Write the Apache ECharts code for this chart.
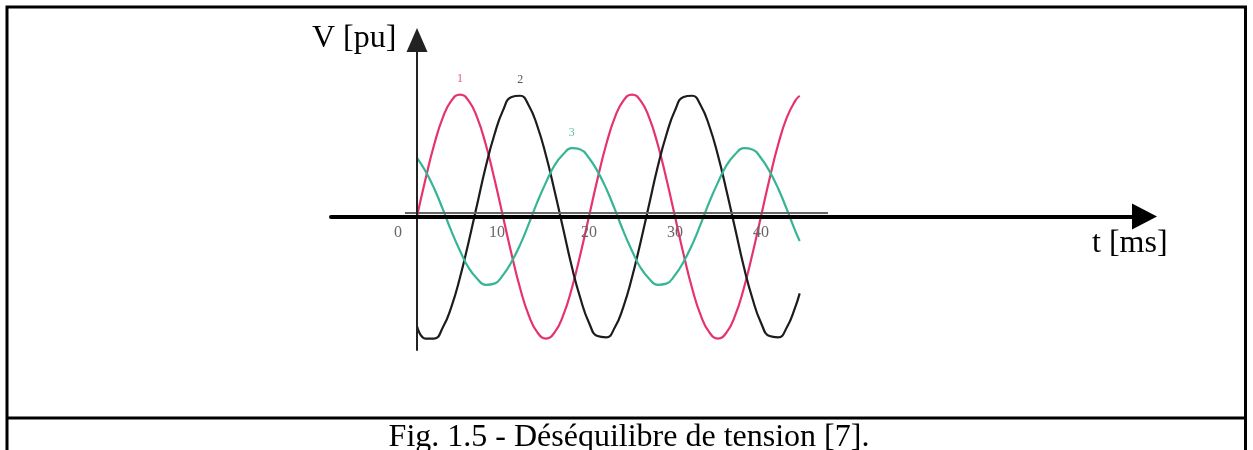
<!DOCTYPE html>
<html>
<head>
<meta charset="utf-8">
<title>Déséquilibre de tension</title>
<script src="https://cdn.jsdelivr.net/npm/echarts@6/dist/echarts.min.js"></script>
<style>
    html, body {
        margin: 0;
        padding: 0;
        background: #fff;
    }

    #chart {
        width: 1253px;
        height: 450px;
    }
</style>
</head>
<body>
<div id="chart"></div>
<script>
const timeMs = [0, 1, 2, 3, 4, 5, 6, 7, 8, 9,
    10, 11, 12, 13, 14, 15, 16, 17, 18, 19,
    20, 21, 22, 23, 24, 25, 26, 27, 28, 29,
    30, 31, 32, 33, 34, 35, 36, 37, 38, 39,
    40, 41, 42, 43, 44, 44.5]
// phase 1 (rouge)
const phase1 = [0, 0.31, 0.59, 0.81, 0.95, 1, 0.95, 0.81, 0.59, 0.31,
    0, -0.31, -0.59, -0.81, -0.95, -1, -0.95, -0.81, -0.59, -0.31,
    0, 0.31, 0.59, 0.81, 0.95, 1, 0.95, 0.81, 0.59, 0.31,
    0, -0.31, -0.59, -0.81, -0.95, -1, -0.95, -0.81, -0.59, -0.31,
    0, 0.31, 0.59, 0.81, 0.95, 0.99]
// phase 2 (noir)
const phase2 = [-0.9, -1, -1, -0.91, -0.74, -0.5, -0.21, 0.1, 0.41, 0.67,
    0.87, 0.98, 0.99, 0.91, 0.74, 0.5, 0.21, -0.1, -0.41, -0.67,
    -0.87, -0.98, -0.99, -0.91, -0.74, -0.5, -0.21, 0.1, 0.41, 0.67,
    0.87, 0.98, 0.99, 0.91, 0.74, 0.5, 0.21, -0.1, -0.41, -0.67,
    -0.87, -0.98, -0.99, -0.91, -0.74, -0.63]
// phase 3 (verte), amplitude réduite
const phase3 = [0.48, 0.37, 0.23, 0.06, -0.12, -0.28, -0.42, -0.51, -0.56, -0.55,
    -0.48, -0.37, -0.23, -0.06, 0.12, 0.28, 0.42, 0.51, 0.56, 0.55,
    0.48, 0.37, 0.23, 0.06, -0.12, -0.28, -0.42, -0.51, -0.56, -0.55,
    -0.48, -0.37, -0.23, -0.06, 0.12, 0.28, 0.42, 0.51, 0.56, 0.55,
    0.48, 0.37, 0.23, 0.06, -0.12, -0.2]
// graduations affichées sous l'axe t
const tickLabels = [0, 10, 20, 30, 40]
const phaseNames = ['1', '2', '3']
const phaseColors = ['#e5346b', '#1c1c1c', '#36b596']
const phaseLabelColors = ['#e0587f', '#555555', '#5cbfa6']

const chart = echarts.init(document.getElementById('chart'))

function makeSeries(values, i, peakIndex) {
    return {
        name: phaseNames[i],
        type: 'line',
        data: timeMs.map((t, k) => [t, values[k]]),
        showSymbol: false,
        smooth: true,
        z: 2,
        lineStyle: {
            color: phaseColors[i],
            width: 2.2,
        },
        // numéro de la phase au-dessus d'un sommet
        markPoint: {
            silent: true,
            symbol: 'circle',
            symbolSize: 1,
            itemStyle: { color: 'transparent' },
            label: {
                show: true,
                position: 'top',
                distance: 9,
                formatter: phaseNames[i],
                color: phaseLabelColors[i],
                fontSize: 12,
                fontFamily: 'Liberation Serif',
            },
            data: [{ coord: [timeMs[peakIndex], values[peakIndex]] }],
        },
    }
}

const series = [
    makeSeries(phase1, 0, 5),
    makeSeries(phase2, 1, 12),
    makeSeries(phase3, 2, 18),
]

// petit axe gris d'origine du relevé
series[0].markLine = {
    silent: true,
    symbol: 'none',
    label: { show: false },
    lineStyle: { color: '#666', width: 2, type: 'solid' },
    data: [[{ coord: [-1.4, 0.03] }, { coord: [47.8, 0.03] }]],
}

const labelFont = { color: '#666', fontSize: 16, fontFamily: 'Liberation Serif' }

const option = {
    animation: false,
    grid: {
        left: 331,
        right: 108.5,
        top: 40,
        bottom: 100,
        outerBoundsMode: 'none',
    },
    xAxis: {
        type: 'value',
        min: -10,
        max: 84.6,
        interval: 10,
        z: 5,
        axisLine: {
            onZero: true,
            symbol: ['none', 'triangle'],
            symbolSize: [26, 25],
            lineStyle: { color: '#000', width: 4 },
        },
        axisTick: { show: false },
        splitLine: { show: false },
        axisLabel: {
            // les libellés restent en bas de la grille : on les remonte sous l'axe
            margin: -125,
            ...labelFont,
            formatter: function (v) {
                if (tickLabels.indexOf(v) < 0) return ''
                if (v === 0) return '{a|0}'
                if (v === 10) return '{b|10}'
                return String(v)
            },
            rich: {
                a: { padding: [0, 38, 0, 0], ...labelFont },
                b: { padding: [0, 12, 0, 0], ...labelFont },
            },
        },
    },
    yAxis: {
        type: 'value',
        min: -1.094,
        max: 1.447,
        z: 5,
        axisLine: {
            onZero: true,
            symbol: ['none', 'triangle'],
            symbolSize: [21, 24],
            lineStyle: { color: '#222', width: 2 },
        },
        axisTick: { show: false },
        axisLabel: { show: false },
        splitLine: { show: false },
    },
    graphic: [
        {
            type: 'rect',
            silent: true,
            shape: { x: 7, y: 7, width: 1238.5, height: 470 },
            style: { fill: 'none', stroke: '#000', lineWidth: 3 },
        },
        {
            type: 'line',
            silent: true,
            shape: { x1: 7, y1: 418, x2: 1245.5, y2: 418 },
            style: { stroke: '#000', lineWidth: 3 },
        },
        {
            type: 'text',
            x: 312,
            y: 39,
            style: {
                text: 'V [pu]',
                font: '32px "Liberation Serif"',
                fill: '#000',
                align: 'left',
                verticalAlign: 'middle',
            },
        },
        {
            type: 'text',
            x: 1092,
            y: 244,
            style: {
                text: 't [ms]',
                font: '32px "Liberation Serif"',
                fill: '#000',
                align: 'left',
                verticalAlign: 'middle',
            },
        },
        {
            type: 'text',
            x: 629,
            y: 438,
            style: {
                text: 'Fig. 1.5 - Déséquilibre de tension [7].',
                font: '32px "Liberation Serif"',
                fill: '#000',
                align: 'center',
                verticalAlign: 'middle',
            },
        },
    ],
    series: series,
}

chart.setOption(option)
</script>
</body>
</html>
